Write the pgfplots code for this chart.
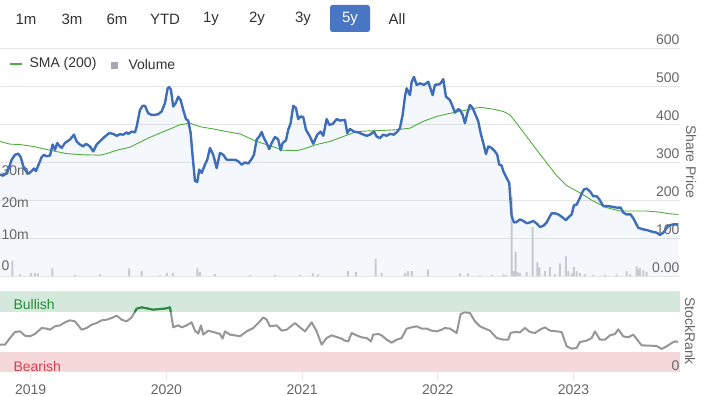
\documentclass[border=0pt]{standalone}
\usepackage{fontspec}
\setmainfont{Liberation Sans}
\usepackage{pgfplots}
\usepackage{pgfplotstable}
\pgfplotsset{compat=1.18}
\definecolor{priceblue}{RGB}{62,110,186}
\definecolor{smagreen}{RGB}{80,172,62}
\definecolor{gridgray}{RGB}{230,230,230}
\definecolor{volgray}{RGB}{200,201,210}
\definecolor{leggray}{RGB}{165,167,178}
\definecolor{labgray}{RGB}{102,102,102}
\definecolor{rankgray}{RGB}{150,150,150}
\definecolor{rankgreen}{RGB}{38,140,58}
\definecolor{bullband}{RGB}{212,233,220}
\definecolor{bearband}{RGB}{246,216,219}
\definecolor{bulltext}{RGB}{40,140,60}
\definecolor{beartext}{RGB}{215,65,80}
\definecolor{btnblue}{RGB}{72,118,196}
\definecolor{btntext}{RGB}{51,51,51}
\newcommand{\fs}{\fontsize{14}{16}\selectfont}

% x columns: horizontal position in chart pixels (2019.0 at 30.7, 135.7 px per year)
\pgfplotstableread{
px price
0 267
3.3 264
6 270
8.3 280
11.7 306
15 319
18.3 322
20.7 313
23.3 289
26 276
28.3 269
31.7 276
34 283
36 276
38.3 291
41.7 313
44 319
46.7 315
50 317
52.7 346
55 332
57.3 350
59.3 343
61.7 337
65 350
70 359
74 372
76.7 354
80 346
83.3 341
86 348
90 341
93.3 328
96.7 346
101.7 359
105 367
109.3 376
113.3 374
116.7 369
120 373
123.3 372
126.7 378
128.3 374
131.7 380
135 378
136.7 393
140 437
142.7 448
145 448
148.3 428
151.7 424
155 424
158.3 426
161.7 433
165 455
167.7 494
169.3 497
171 490
173.3 446
175.7 455
178.3 472
180.7 463
183.3 437
186 413
188.3 409
190.7 376
192.7 315
195 250
197.3 247
199.3 280
201.7 271
205 293
207.3 306
210 337
213.3 319
216.7 284
220 324
223.3 319
226.7 306
230 306
235 306
238.3 302
241.7 293
245 299
248.3 296
251.7 308
254 319
256.7 359
259.3 367
261.7 379
264 363
266.7 350
269.3 334
271.7 350
275 366
278.3 359
280.7 331
282.7 350
286 357
288.3 385
290.7 402
293.3 448
296 442
298.3 413
300.7 420
303.3 418
306 385
310 367
313.3 348
317.3 372
320.7 380
323.3 369
326.7 413
329.3 398
332.7 400
336.7 413
340 409
345 411
347.3 376
350 387
354 380
358.3 378
361.7 374
366.7 369
370 372
374 380
376.7 367
380 363
383.3 372
386.7 369
390 374
394 372
396.7 378
400 389
402.7 424
405 472
406.7 494
410 476
411.7 511
414 524
416.7 503
420 507
424 503
428.3 511
432.7 476
435 503
440 505
443.3 518
446 472
450 463
452.7 446
455 430
458.3 439
460 437
462.7 424
465 402
467.3 428
470 450
472.7 442
475 428
478.3 407
480.7 376
483.3 350
486 321
488.3 341
491.7 337
495 328
497.3 319
499.3 293
501.7 291
503.3 276
506.7 258
509.3 245
510.7 193
511.7 158
514 141
516.7 142
520 149
523.3 145
526.7 139
530 141
533.3 145
536.7 138
540 129
543.3 132
546.7 141
549.3 154
551.7 165
555 165
558.3 162
561.7 156
566 147
568.3 154
571.7 162
574 186
576.7 188
579.3 202
581.7 217
584 228
586.7 230
590 223
593.3 210
596.7 210
599.3 202
603.3 184
608.3 184
612.7 182
616.7 180
620.7 180
623.3 167
626.7 162
630.7 162
634 149
638.3 127
642.7 123
646.7 121
651.7 117
656.7 114
660 108
663.3 114
668.3 132
673.3 136
678.3 136
}\pricetab

\pgfplotstableread{
px sma
0 354
10 347
20 346
33.3 341
50 331
66.7 322
83.3 319
100 318
106.7 322
116.7 331
130 339
140 352
148.3 363
160 376
168.3 385
180 398
190 402
200 393
213.3 387
226.7 380
240 374
256.7 354
270 343
283.3 331
296.7 330
303.3 334
316.7 346
330 354
343.3 367
356.7 380
370 382
383.3 383
396.7 385
410 389
423.3 407
436.7 420
450 428
463.3 435
480 444
493.3 439
503.3 433
510 424
516.7 402
526.7 367
536.7 332
546.7 298
556.7 264
566.7 238
580 219
593.3 197
606.7 180
620 171
633.3 171
646.7 171
660 168
668.3 164
678.3 162
}\smatab

\pgfplotstableread{
px vol
12.3 4.8
20 0.5
31 1.0
35 1.0
38 0.8
52.3 2.4
75 0.3
100 0.5
129.3 2.4
141.7 1.5
160 0.3
167 1.0
173 1.0
197.5 2.4
200 1.2
215 0.6
250 0.3
275 0.3
300 0.3
313 0.8
318 0.5
348 1.5
356 1.2
375.7 5.4
381.7 1.0
405 1.0
408 1.5
412 1.5
428 2.0
460 0.8
468 0.8
480 0.3
492 0.3
503.3 0.5
506 0.3
511.7 25.0
514 1.5
515.7 7.7
517.3 1.3
520 1.0
526.7 1.2
532.7 15.4
537.3 4.3
539.3 2.7
545 1.5
550 2.8
555 0.5
560 4.0
566 6.2
568.3 1.5
572 0.8
574 2.8
576.7 1.5
580 1.0
585 0.5
593 0.3
605 0.3
616.7 0.5
626.7 1.5
630 0.5
636.7 3.0
638.5 2.0
640 2.5
643.3 1.8
646.7 1.2
}\voltab

\pgfplotstableread{
px rank
0 34.2
5 34.2
10 42.5
15 50
20 50.8
25 45.4
30 44.6
35 47.5
41.7 55
46.7 54.2
50 52.9
55 57.1
60 58.3
65 62.1
70 64.6
75 63.3
81.7 52.9
86.7 55
91.7 59.2
96.7 61.2
101.7 64.6
106.7 65.4
111.7 67.5
116.7 70.4
121.7 65.4
126.7 63.3
131.7 68.3
134.8 75
136.7 79.2
141.7 80.8
148.3 79.2
153.3 77.9
160 78.8
165 79.2
170 80.8
170.8 75
173.3 55.8
178.3 58.3
181.7 55.8
186.7 58.3
191.7 62.1
195 51.7
198.3 47.9
201 58.3
203.3 46.7
208.3 51.7
213.3 50
220 47.5
222.7 41.7
225 50.8
230 46.7
235 45.8
240 44.6
246.7 50.8
253.3 55
260 63.3
263.3 68.3
266.7 65.4
270 57.1
276.7 58.3
281.7 51.7
286.7 52.9
295 61.2
300 55.8
305 50.8
311.7 62.1
316.7 50.8
321.7 34.2
326.7 42.5
331.7 45.8
336.7 43.8
341.7 41.7
345 39.2
348.3 38.3
351.7 48.8
356.7 45.8
361.7 43.3
366.7 42.5
371 38.3
373.3 46.7
378.3 47.5
381.7 45.8
386.7 40.4
391.7 36.7
396.7 40.4
401.7 42.5
406.7 54.2
411.7 55.8
416.7 57.1
421.7 54.2
426.7 54.2
431.7 51.7
436.7 50.8
441.7 52.9
445 55
450 54.2
456.7 48.8
460.7 72.5
465 74.6
470 73.8
475 63.3
480 57.1
485 54.2
490 51.7
496.7 42.5
503.3 40.4
508.3 40.4
510.7 48.8
515 50
520 49.6
525 55
530 50
535 48.8
540 52.9
545 55.8
550 51.7
556.7 50.8
561.7 50
566.7 32.1
571.7 29.2
576.7 30
580 37.5
586.7 39.2
591.7 42.5
595 50.8
600 40.4
605 40.4
610 45.8
615 47.5
618.3 53.3
623.3 44.6
628.3 43.3
633.3 46.7
641.7 33.3
650 32.9
656.7 32.5
661.7 28.8
666.7 32.1
671.7 36.2
675 38.3
678.3 37.5
}\ranktab

\pgfplotstableread{
px rank
134.8 75
136.7 79.2
141.7 80.8
148.3 79.2
153.3 77.9
160 78.8
165 79.2
170 80.8
170.8 75
}\bulltab

\pgfplotsset{
  base/.style={
    scale only axis, width=680pt,
    xmin=2018.774, xmax=2023.785,
    axis line style={draw=none},
    every tick label/.append style={font=\fs, text=labgray},
    /pgf/number format/assume math mode=true,
  },
  mainpanel/.style={base, height=228pt, at={(0pt,-276pt)}, anchor=south west,
    xtick=\empty, ytick style={draw=none}},
}

\begin{document}
\begin{tikzpicture}
\useasboundingbox (0pt,0pt) rectangle (702pt,-396pt);

% range buttons
\fill[btnblue, rounded corners=2.5pt] (330pt,-5pt) rectangle (370pt,-32pt);
\foreach \t/\x in {1m/26,3m/72,6m/117,YTD/165,1y/211,2y/257,3y/303,All/397}
  \node[font=\fontsize{15}{17}\selectfont, text=btntext] at (\x pt,-19pt) {\t};
\node[font=\fontsize{15}{17}\selectfont, text=white] at (350pt,-19pt) {5y};

% price grid and area
\begin{axis}[mainpanel, ymin=0, ymax=600, ytick={0,100,...,600}, yticklabels={},
  ymajorgrids, major grid style={draw=gridgray, line width=1pt}]
\addplot[draw=none, fill=priceblue, fill opacity=0.055] table[x expr={2019+(\thisrow{px}-30.7)/135.7}, y=price]{\pricetab} \closedcycle;
\end{axis}

% volume
\begin{axis}[mainpanel, ymin=0, ymax=71.9, ytick={0,10,20,30},
  yticklabels={0,10m,20m,30m},
  yticklabel style={anchor=west, xshift=-2pt, yshift=10pt}]
\addplot[ybar, bar width=2pt, fill=volgray, draw=none] table[x expr={2019+(\thisrow{px}-30.7)/135.7}, y=vol]{\voltab};
\end{axis}

% price lines
\begin{axis}[mainpanel, ymin=0, ymax=600, ytick={0,100,...,600},
  yticklabels={0.00,100,200,300,400,500,600}, yticklabel pos=right,
  yticklabel style={anchor=east, xshift=3pt, yshift=8pt}]
\addplot[smagreen, line width=0.9pt] table[x expr={2019+(\thisrow{px}-30.7)/135.7}, y=sma]{\smatab};
\addplot[priceblue, line width=2.4pt, line join=round] table[x expr={2019+(\thisrow{px}-30.7)/135.7}, y=price]{\pricetab};
\end{axis}

% legend
\draw[smagreen, line width=1.2pt] (10pt,-64pt) -- (22pt,-64pt);
\node[anchor=west, font=\fs, text=btntext] at (26pt,-64pt) {SMA (200)};
\fill[leggray] (111pt,-62.5pt) rectangle (118pt,-69.5pt);
\node[anchor=west, font=\fs, text=btntext] at (125pt,-64pt) {Volume};
\node[rotate=-90, font=\fs, text=labgray] at (691pt,-162pt) {Share Price};

% StockRank panel
\draw[gridgray, line width=1pt] (0pt,-291pt) -- (680pt,-291pt);
\begin{axis}[base, height=80pt, at={(0pt,-372pt)}, anchor=south west,
  axis on top,
  ymin=0, ymax=100, xtick={2019,2020,2021,2022,2023},
  xticklabels={2019,2020,2021,2022,2023}, xtick pos=bottom,
  tick align=outside, major tick length=8pt,
  xtick style={draw=gridgray, line width=1pt},
  xticklabel style={yshift=-1pt},
  ytick={0}, yticklabels={0}, yticklabel pos=right, ytick style={draw=none},
  yticklabel style={anchor=east, xshift=-5pt, yshift=6pt}]
\addplot[draw=none, fill=bullband] coordinates {(2018.774,75) (2023.785,75) (2023.785,100) (2018.774,100)};
\addplot[draw=none, fill=bearband] coordinates {(2018.774,25) (2023.785,25)} \closedcycle;
\addplot[rankgray, line width=2pt, line join=round] table[x expr={2019+(\thisrow{px}-30.7)/135.7}, y=rank]{\ranktab};
\addplot[rankgreen, line width=2pt, line join=round] table[x expr={2019+(\thisrow{px}-30.7)/135.7}, y=rank]{\bulltab};
\end{axis}
\node[anchor=west, font=\fs, text=bulltext] at (10pt,-304pt) {Bullish};
\node[anchor=west, font=\fs, text=beartext] at (10pt,-366pt) {Bearish};
\node[rotate=-90, font=\fs, text=labgray] at (690pt,-331pt) {StockRank};
\end{tikzpicture}
\end{document}
